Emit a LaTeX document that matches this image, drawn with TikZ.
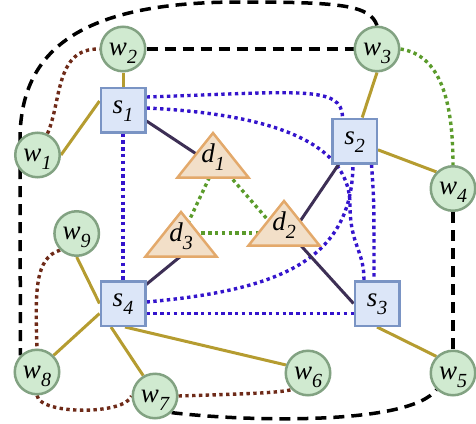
\documentclass[tikz,border=0pt]{standalone}
\usepackage{fontspec}
\setmainfont{Liberation Serif}
\usetikzlibrary{calc}
\pgfdeclarelayer{edges}
\pgfdeclarelayer{tris}
\pgfsetlayers{edges,tris,main}
\definecolor{wfill}{HTML}{D0EAD0}
\definecolor{wdraw}{HTML}{82A282}
\definecolor{sfill}{HTML}{DCE6F8}
\definecolor{sdraw}{HTML}{7A94C4}
\definecolor{dfill}{HTML}{F2DFC8}
\definecolor{ddraw}{HTML}{E3A96B}
\definecolor{olivec}{HTML}{B59C30}
\definecolor{darkp}{HTML}{3D2F55}
\definecolor{bdotc}{HTML}{3414CC}
\definecolor{gdotc}{HTML}{5B9B2B}
\definecolor{rdotc}{HTML}{6E2A18}
\newcommand\lbl[2]{\itshape #1\raisebox{-8pt}{\fontsize{20}{20}\selectfont #2}}
\begin{document}
\begin{tikzpicture}[x=1pt,y=-1pt,
  wnode/.style={circle,fill=wfill,draw=wdraw,line width=2.5pt,minimum size=44.5pt,inner sep=0pt,
    font=\fontsize{27}{27}\selectfont,text height=16pt,text depth=4pt},
  snode/.style={rectangle,fill=sfill,draw=sdraw,line width=2.5pt,minimum size=44.5pt,inner sep=0pt,
    font=\fontsize{27}{27}\selectfont,text height=12pt,text depth=6pt},
  dnode/.style={inner sep=0pt,font=\fontsize{27}{27}\selectfont,text height=12pt,text depth=6pt},
  tri/.style={fill=dfill,draw=ddraw,line width=2.5pt},
  sol/.style={line width=3pt,olivec},
  dk/.style={line width=3pt,darkp},
  bd/.style={line width=3.4pt,bdotc,dash pattern=on 3.4pt off 3.4pt},
  gd/.style={line width=3.4pt,gdotc,dash pattern=on 3.4pt off 3.4pt},
  rd/.style={line width=3.4pt,rdotc,dash pattern=on 3.4pt off 3.4pt},
  bk/.style={line width=3.5pt,black,dash pattern=on 11pt off 7pt},
]
\useasboundingbox (0,0) rectangle (476,423);
% nodes
\node[wnode] (w1) at (37.5,155) {\lbl{w}{1}};
\node[wnode] (w2) at (123,49) {\lbl{w}{2}};
\node[wnode] (w3) at (377,49) {\lbl{w}{3}};
\node[wnode] (w4) at (453,188.5) {\lbl{w}{4}};
\node[wnode] (w5) at (453,373) {\lbl{w}{5}};
\node[wnode] (w6) at (308,373) {\lbl{w}{6}};
\node[wnode] (w7) at (155,396) {\lbl{w}{7}};
\node[wnode] (w8) at (37,372) {\lbl{w}{8}};
\node[wnode] (w9) at (76.7,233.5) {\lbl{w}{9}};
\node[snode] (s1) at (123,110) {\lbl{s}{1}};
\node[snode] (s2) at (354.5,141) {\lbl{s}{2}};
\node[snode] (s3) at (377,303.5) {\lbl{s}{3}};
\node[snode] (s4) at (123,303.5) {\lbl{s}{4}};
\node[dnode] (d1) at (213,159) {\lbl{d}{1}};
\node[dnode] (d2) at (284,227) {\lbl{d}{2}};
\node[dnode] (d3) at (181,238) {\lbl{d}{3}};
% triangles
\begin{pgfonlayer}{tris}
\foreach \d in {d1,d2,d3}
  \filldraw[tri] ($(\d)+(0,-26)$) -- ($(\d)+(-35.5,18.5)$) -- ($(\d)+(35.5,18.5)$) -- cycle;
\end{pgfonlayer}
% edges
\begin{pgfonlayer}{edges}
% black dashed
\draw[bk] (w2) -- (w3);
\draw[bk] (w3.north) .. controls (370,5) and (340,2) .. (240,2)
  .. controls (80,2) and (20,50) .. (20,140) -- (w8.north west);
\draw[bk] (w4) -- (w5);
\draw[bk] (w7.south east) .. controls (250,422) and (410,425) .. (w5.south west);
% brown dotted
\draw[rd] (w1.65) .. controls (62,100) and (55,48) .. (w2.west);
\draw[rd] (w9.south west) .. controls (35,258) and (35,290) .. (w8.north);
\draw[rd] (w8.south) .. controls (40,415) and (125,415) .. (w7.west);
\draw[rd] (w7.east) .. controls (240,394) and (280,393) .. (w6.south west);
% green dotted
\draw[gd] (w3.east) .. controls (440,55) and (453,100) .. (w4.north);
\draw[gd] ($(d1)+(5,0)$) -- (d3.center);
\draw[gd] ($(d1)+(2,0)$) -- ($(d2)+(-10,0)$);
\draw[gd] ([yshift=5pt]d3.center) -- ([yshift=-6pt]d2.center);
% blue dotted
\draw[bd] (s1) -- (s4);
\draw[bd] ([yshift=13pt]s1.east) .. controls (300,92) and (342,85) .. ([xshift=-12pt]s2.north);
\draw[bd] ([yshift=2pt]s1.east) .. controls (290,115) and (350,150) .. (350,205)
  .. controls (350,245) and (364,250) .. ([xshift=-13pt]s3.north);
\draw[bd] ([yshift=1.5pt]s4.east) .. controls (280,290) and (352,260) .. ([xshift=-1.5pt]s2.south);
\draw[bd] ([xshift=17pt]s2.south) .. controls (374,200) .. ([xshift=-3pt]s3.north);
\draw[bd] ([yshift=-10pt]s4.east) -- ([yshift=-10pt]s3.west);
% olive solid
\draw[sol] (w2) -- (s1);
\draw[sol] (w1.east) -- ([yshift=9pt]s1.west);
\draw[sol] (w3.south) -- (s2);
\draw[sol] (s2) -- (w4.north west);
\draw[sol] (w9.south) -- (s4.west);
\draw[sol] (w8.north east) -- ([yshift=-10pt]s4.west);
\draw[sol] (w7.120) -- ([xshift=-12pt]s4.south);
\draw[sol] ([xshift=2pt]s4.south) -- (w6.160);
\draw[sol] (s3.south) -- (w5.north west);
% dark solid
\draw[dk] ([yshift=-11pt]s1.east) -- ($(d1)+(0,6)$);
\draw[dk] (s2.center) -- ($(d2)+(0,18)$);
\draw[dk] (d2.center) -- (s3.west);
\draw[dk] (s4.center) -- ($(d3)+(0,18)$);
\end{pgfonlayer}
\end{tikzpicture}
\end{document}
